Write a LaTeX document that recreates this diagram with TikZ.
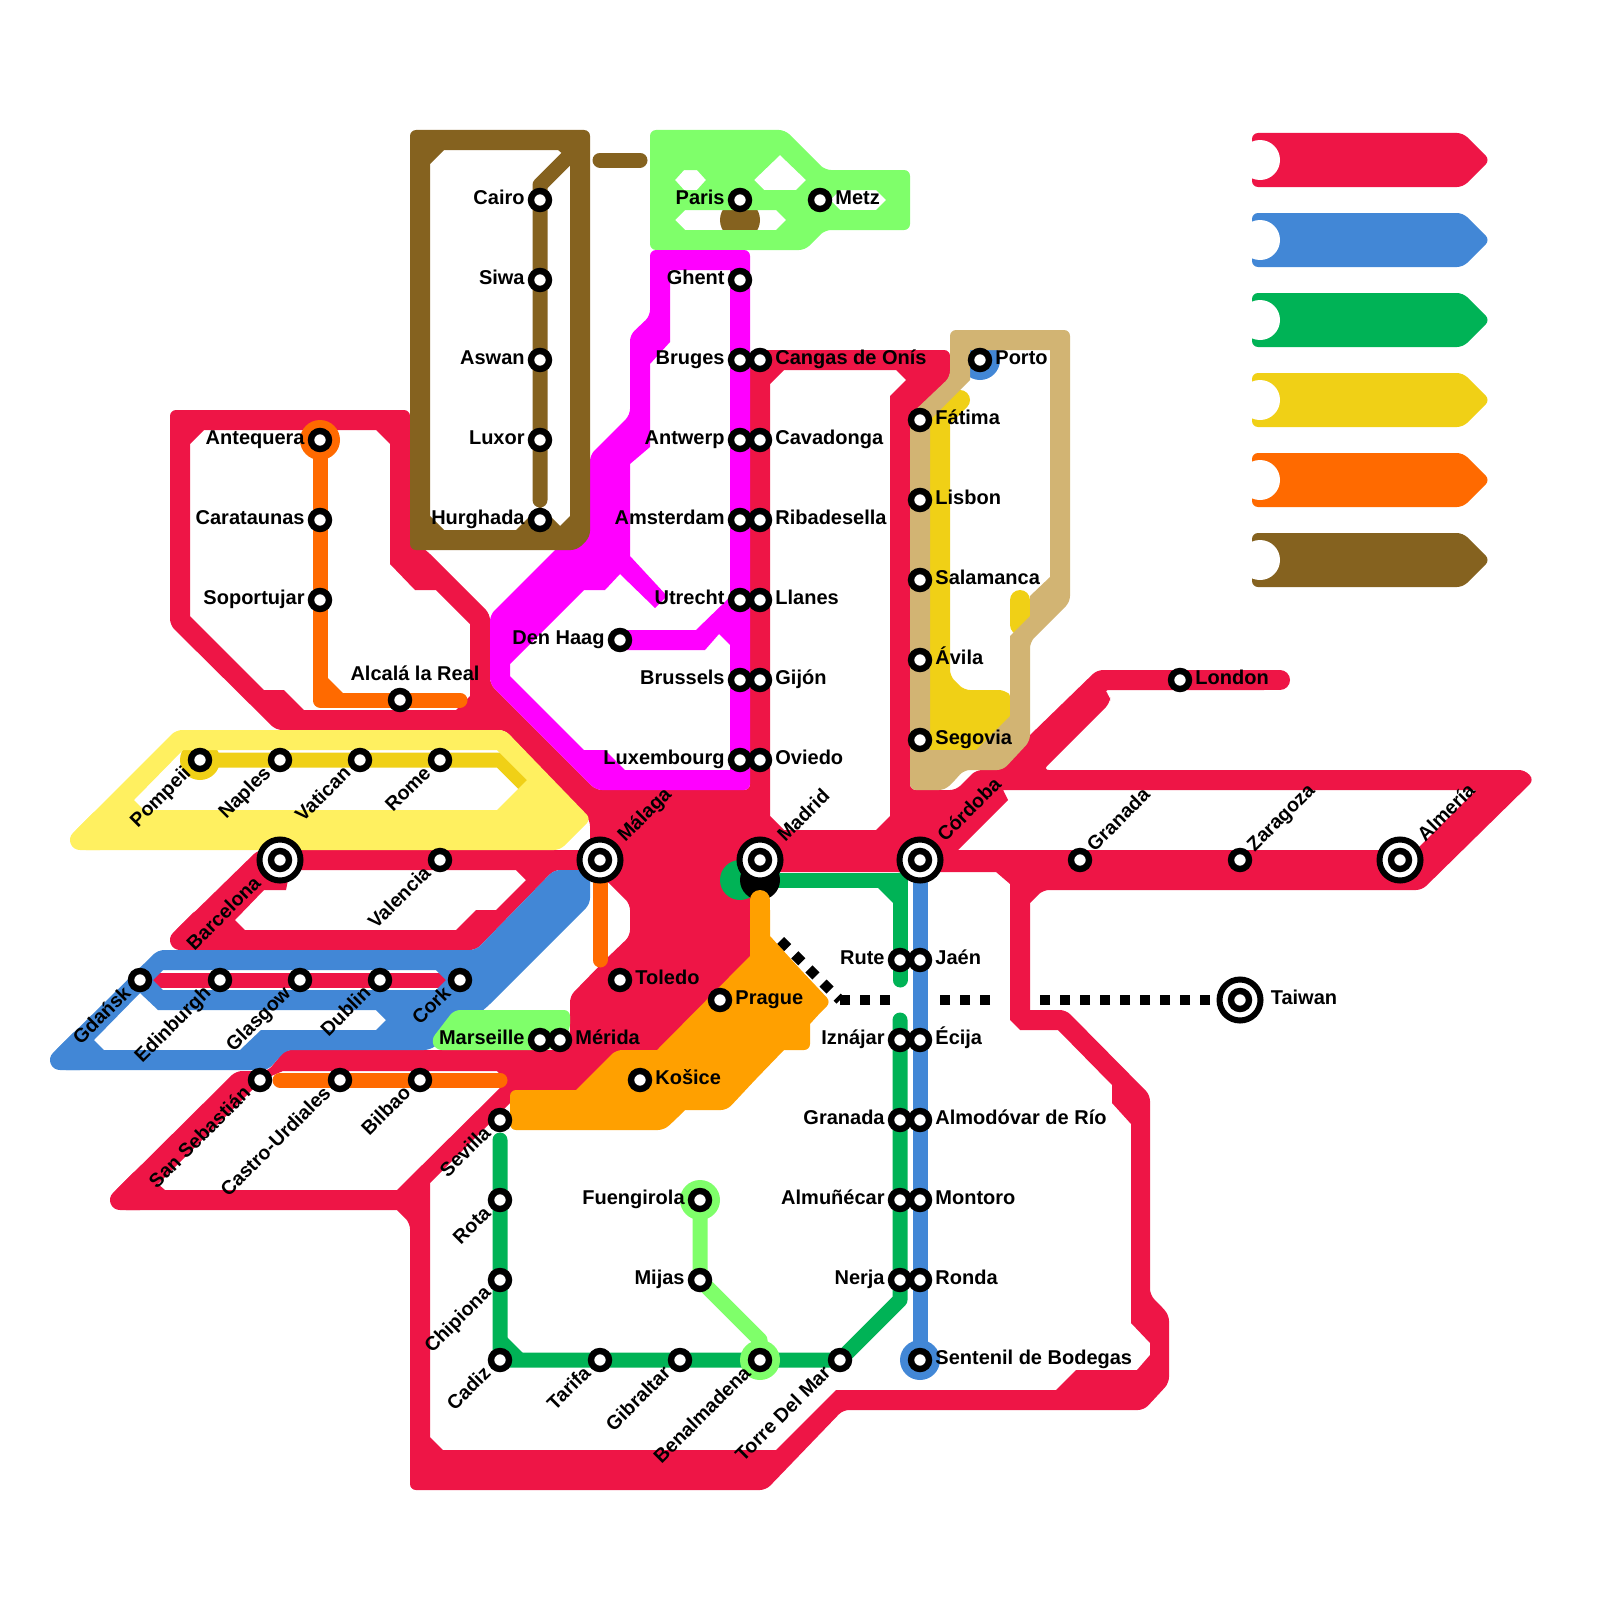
\documentclass[tikz,border=0pt]{standalone}
\usepackage{fontspec}
\setmainfont{Liberation Sans}[BoldFont={Liberation Sans Bold}]
\pgfdeclarelayer{under}
\pgfsetlayers{under,main}
\definecolor{crim}{HTML}{EE1546}
\definecolor{bluel}{HTML}{4287D6}
\definecolor{greenl}{HTML}{00B356}
\definecolor{yell}{HTML}{F0D016}
\definecolor{oran}{HTML}{FF6A00}
\definecolor{brow}{HTML}{85621F}
\definecolor{magl}{HTML}{FF00FF}
\definecolor{lgreen}{HTML}{7FFF6A}
\definecolor{lyell}{HTML}{FFF060}
\definecolor{tanl}{HTML}{D2B473}
\definecolor{ambe}{HTML}{FFA000}
\tikzset{
 stn/.style={circle,draw=black,fill=white,line width=3.2pt,minimum size=9pt,inner sep=0pt},
 hub/.style={circle,draw=black,fill=white,line width=3pt,minimum size=20.5pt,inner sep=0pt,
   path picture={\draw[black,fill=white,line width=3.2pt] (path picture bounding box.center) circle (4.5pt);}},
 lbl/.style={font=\fontsize{10}{10}\selectfont\bfseries,inner sep=0pt,text=black},
 lblr/.style={font=\fontsize{9.8}{10}\selectfont\bfseries,inner sep=0pt,text=black},
 thin/.style={line width=7.5pt,line cap=round,line join=round},
 shapeline/.style={even odd rule,rounded corners=3pt},
 dots/.style={black,line width=5pt,dash pattern=on 5pt off 5pt},
 rc/.style={rounded corners=3pt},
 sc/.style={sharp corners},
 capsule/.style={line width=10pt,line cap=round,line join=round},
}
\newcommand{\SL}[4]{\node[stn] (#1) at (#2,#3) {};\node[lbl,anchor=base east,xshift=-7.5pt,yshift=-2.4pt] (#1-t) at (#1) {#4};}
\newcommand{\SR}[4]{\node[stn] (#1) at (#2,#3) {};\node[lbl,anchor=base west,xshift=7.5pt,yshift=-2.4pt] (#1-t) at (#1) {#4};}
\newcommand{\SA}[4]{\node[stn] (#1) at (#2,#3) {};\node[lblr,anchor=base west,xshift=7.3pt,yshift=3.7pt,rotate=45] (#1-t) at (#1) {#4};}
\newcommand{\SB}[4]{\node[stn] (#1) at (#2,#3) {};\node[lblr,anchor=base east,xshift=-4pt,yshift=-7pt,rotate=45] (#1-t) at (#1) {#4};}
\newcommand{\HA}[4]{\node[hub] (#1) at (#2,#3) {};\node[lblr,anchor=base west,xshift=12.5pt,yshift=8.5pt,rotate=45] (#1-t) at (#1) {#4};}
\begin{document}
\begin{tikzpicture}[x=0.5pt,y=-0.5pt]
\useasboundingbox (0,0) rectangle (1600,1600);
% stations
\SL{cairo}{540}{200}{Cairo}
\SL{siwa}{540}{280}{Siwa}
\SL{aswan}{540}{360}{Aswan}
\SL{luxor}{540}{440}{Luxor}
\SL{hurghada}{540}{520}{Hurghada}
\SL{paris}{740}{200}{Paris}
\SR{metz}{820}{200}{Metz}
\SL{ghent}{740}{280}{Ghent}
\SL{bruges}{740}{360}{Bruges}
\SL{antwerp}{740}{440}{Antwerp}
\SL{amsterdam}{740}{520}{Amsterdam}
\SL{utrecht}{740}{600}{Utrecht}
\SL{brussels}{740}{680}{Brussels}
\SL{luxembourg}{740}{760}{Luxembourg}
\SL{denhaag}{620}{640}{Den Haag}
\SR{cangas}{760}{360}{Cangas de Onís}
\SR{cavadonga}{760}{440}{Cavadonga}
\SR{ribadesella}{760}{520}{Ribadesella}
\SR{llanes}{760}{600}{Llanes}
\SR{gijon}{760}{680}{Gijón}
\SR{oviedo}{760}{760}{Oviedo}
\SR{porto}{980}{360}{Porto}
\SR{fatima}{920}{420}{Fátima}
\SR{lisbon}{920}{500}{Lisbon}
\SR{salamanca}{920}{580}{Salamanca}
\SR{avila}{920}{660}{Ávila}
\SR{segovia}{920}{740}{Segovia}
\SR{london}{1180}{680}{London}
\SL{antequera}{320}{440}{Antequera}
\SL{carataunas}{320}{520}{Carataunas}
\SL{soportujar}{320}{600}{Soportujar}
\node[stn] (alcala) at (400,700) {};
\node[lbl,anchor=base,xshift=7.5pt,yshift=10pt] (alcala-t) at (alcala) {Alcalá la Real};
\SB{pompeii}{200}{760}{Pompeii}
\SB{naples}{280}{760}{Naples}
\SB{vatican}{360}{760}{Vatican}
\SB{rome}{440}{760}{Rome}
\node[hub] (barcelona) at (280,860) {};
\node[lblr,anchor=base east,xshift=-9pt,yshift=-12pt,rotate=45] (barcelona-t) at (barcelona) {Barcelona};
\SB{valencia}{440}{860}{Valencia}
\HA{malaga}{600}{860}{Málaga}
\HA{madrid}{760}{860}{Madrid}
\HA{cordoba}{920}{860}{Córdoba}
\SA{granadaE}{1080}{860}{Granada}
\SA{zaragoza}{1240}{860}{Zaragoza}
\HA{almeria}{1400}{860}{Almería}
\node[hub] (taiwan) at (1240,1000) {};
\node[lbl,anchor=base west,xshift=15.2pt,yshift=-2pt] (taiwan-t) at (taiwan) {Taiwan};
\SB{gdansk}{140}{980}{Gdańsk}
\SB{edinburgh}{220}{980}{Edinburgh}
\SB{glasgow}{300}{980}{Glasgow}
\SB{dublin}{380}{980}{Dublin}
\SB{cork}{460}{980}{Cork}
\SB{sansebastian}{260}{1080}{San Sebastián}
\SB{castro}{340}{1080}{Castro-Urdiales}
\SB{bilbao}{420}{1080}{Bilbao}
\SR{toledo}{620}{980}{Toledo}
\SR{prague}{720}{1000}{Prague}
\SL{marseille}{540}{1040}{Marseille}
\SR{merida}{560}{1040}{Mérida}
\SR{kosice}{640}{1080}{Košice}
\SB{sevilla}{500}{1120}{Sevilla}
\SB{rota}{500}{1200}{Rota}
\SB{chipiona}{500}{1280}{Chipiona}
\SB{cadiz}{500}{1360}{Cadiz}
\SB{tarifa}{600}{1360}{Tarifa}
\SB{gibraltar}{680}{1360}{Gibraltar}
\SB{benalmadena}{760}{1360}{Benalmadena}
\SB{torredelmar}{840}{1360}{Torre Del Mar}
\SL{fuengirola}{700}{1200}{Fuengirola}
\SL{mijas}{700}{1280}{Mijas}
\SL{rute}{900}{960}{Rute}
\SL{iznajar}{900}{1040}{Iznájar}
\SL{granadaS}{900}{1120}{Granada}
\SL{almunecar}{900}{1200}{Almuñécar}
\SL{nerja}{900}{1280}{Nerja}
\SR{jaen}{920}{960}{Jaén}
\SR{ecija}{920}{1040}{Écija}
\SR{almodovar}{920}{1120}{Almodóvar de Río}
\SR{montoro}{920}{1200}{Montoro}
\SR{ronda}{920}{1280}{Ronda}
\SR{sentenil}{920}{1360}{Sentenil de Bodegas}
\begin{pgfonlayer}{under}
% legend
\foreach \yy/\cc in {160/crim,240/bluel,320/greenl,400/yell,480/oran,560/brow}{
 \fill[\cc,rounded corners=3pt] (1252,\yy-27) -- (1463,\yy-27) -- (1490,\yy) -- (1463,\yy+27) -- (1252,\yy+27) -- cycle;
 \fill[white] (1260,\yy) circle (10pt);
}
% dotted line
\coordinate (d1) at (1040,1000);\coordinate (d2) at (990,1000);\coordinate (d3) at (940,1000);
\coordinate (d4) at (890,1000);\coordinate (d5) at (840,1000);\coordinate (d6) at (779,939);
\draw[dots,dash phase=5pt] (taiwan.center) -- (d1);
\draw[dots] (d2) -- (d3);
\draw[dots] (d4) -- (d5);
\draw[dots,dash phase=3pt] (d5) -- (d6);
% pieces below the big shapes
\draw[crim,thin] (gdansk.center) -- (cork.center);
\fill[brow] (740,220) circle (10pt);
% crimson
\draw[crim,capsule] (140,1200) -- (120,1200) -- (140,1180);
\draw[crim,capsule] (200,940) -- (180,940) -- (200,920);
\draw[crim,capsule] (1260,680) -- (1280,680);
\fill[crim,shapeline]
 (170,410)--(410,410)--(410,540)--(426,550)--(490,614)--(490,684)--(596,790)--(750,790)--(750,350)--(950,350)--(950,378)--(910,418)--(910,790)--(956,790)--(976,770)--(994,770)--(1097,670)--(1270,670)--(1270,690)--(1103,690)--(1110,695)--(1110,703)--(1043,770)--(1525,770)--(1534,780)--(1422,890)--(1043,890)[sc]--(1030,903)--(1030,1010)--(1050,1010)[rc]--(1066,1010)--(1150,1095)--(1150,1295)[sc]--(1160,1305)[rc]--(1169,1315)--(1169,1383)--(1144,1410)--(843,1410)--(766,1490)--(410,1490)--(410,1223)[sc]--(397,1210)--(300,1210)[rc]--(120,1210)--(113,1193)--(236,1071)--(268,1071)--(285,1050)--(570,1050)--(570,996)--(607,958)--(630,936)--(630,904)--(607,881)--(590,870)--(554,870)--(476,950)--(180,950)--(173,933)--(258,850)--(590,850)--(590,820)--(505,730)--(276,730)--(170,625)--cycle
 [sc]
 (190,444)--(204,430)--(376,430)--(390,444)--(390,564)--(415,590)--(436,590)--(470,624)--(470,696)--(456,710)--(304,710)--(284,690)--(264,690)--(190,616)--cycle
 (770,384)--(784,370)--(896,370)--(906,380)--(890,396)--(890,816)--(876,830)--(784,830)--(770,816)--cycle
 (1003,790)--(1476,790)--(1416,850)--(958,850)--(1008,800)--cycle
 (290,870)--(516,870)--(526,880)--(496,910)--(476,910)--(456,930)--(245,930)--(235,920)--(264,890)--(286,890)--cycle
 (283,1071)--(497,1071)--(507,1081)--(397,1190)--(165,1190)--(158,1184)--(262,1080)--cycle
 (760,872)--(996,872)--(1010,884)--(1010,1020)--(1020,1030)--(1058,1030)--(1112,1085)--(1112,1103)--(1131,1124)--(1131,1323)--(1150,1343)--(1150,1355)--(1137,1370)--(1076,1370)--(1056,1390)--(836,1390)--(776,1450)--(443,1450)--(430,1437)--(430,1183)--(505,1108)--(510,1103)--(520,1100)--(640,1100)--(760,1000)--cycle;
% yellow
\fill[yell] (pompeii) circle (10pt);
\draw[yell,line width=7.5pt,line join=round] (pompeii.center) -- (500,760) -- (525,785);
\fill[yell,rounded corners=3pt] (925,430)--(950,420)--(950,676)--(964,690)--(1005,690)--(1012,697)--(1012,760)--(925,760)--cycle;
\draw[yell,capsule] (935,425) -- (960,400);
\draw[yell,capsule] (1020,600) -- (1020,625);
% light yellow
\draw[lyell,capsule] (100,840) -- (80,840) -- (100,820);
\fill[lyell,shapeline] (73,833)--(176,730)--(505,730)--(591,819)--(560,850)--(80,850)--cycle
 [sc] (183,750)--(497,750)--(527,780)--(497,810)--(144,810)--(134,800)--cycle;
% blue
\draw[bluel,capsule] (80,1060) -- (60,1060) -- (80,1040);
\fill[bluel,shapeline] (53,1053)--(158,950)--(476,950)--(554,870)--(590,870)--(590,904)--(486,1008)--(430,1050)--(286,1050)--(268,1070)--(60,1070)--cycle
 [sc] (163,970)--(436,970)--(446,980)--(436,990)--(163,990)--(153,980)--cycle
 (140,993)--(158,1010)--(376,1010)--(386,1020)--(376,1030)--(261,1030)--(240,1050)--(104,1050)--(94,1040)--cycle;
\fill[bluel] (porto) circle (10pt);
% light green
\fill[lgreen,rounded corners=3pt] (431,1040)--(454,1010)--(570,1010)--(570,1030)--(550,1050)--(436,1050)--cycle;
\fill[lgreen,shapeline] (650,130)--(785,130)--(825,170)[sc]--(860,170)[rc]--(910,170)--(910,230)--(825,230)[sc]--(815,240)[rc]--(805,250)--(650,250)--cycle
 [sc] (675,180)--(684,170)--(697,170)--(706,180)--(697,190)--(684,190)--cycle
 (754,180)--(780,155)--(806,180)--(796,190)--(764,190)--cycle
 (675,220)--(685,210)--(776,210)--(786,220)--(776,230)--(685,230)--cycle
 (840,190)--(876,190)--(886,200)--(876,210)--(840,210)--(830,200)--cycle;
% magenta
\fill[magl,shapeline] (650,250)--(750,250)--(750,790)--(596,790)--(490,684)--(490,615)--(590,515)--(590,455)--(630,415)[sc]--(630,375)[rc]--(630,335)--(650,316)[sc]--(650,290)[rc]--cycle
 [sc] (670,270)--(730,270)--(730,597)--(696,630)--(620,630)--(620,650)--(705,650)--(719,634)--(730,645)--(730,770)--(625,770)--(605,750)--(584,750)--(510,676)--(510,664)--(584,590)--(605,590)--(620,574)--(655,608)--(667,596)--(630,556)--(630,464)--(650,447)--(650,364)--(670,342)--cycle;
% amber
\fill[ambe] (750,956)--(657,1050)--(636,1050)[rc]--(616,1050)--(596,1070)[sc]--(576,1090)--(540,1090)[rc]--(510,1090)--(510,1130)--(664,1130)--(675,1120)[sc]--(685,1110)--(705,1110)[rc]--(727,1110)--(755,1080)[sc]--(784,1050)--(797,1050)[rc]--(810,1050)--(810,1037)[sc]--(810,1024)--(820,1013)[rc]--(831,1002)--(800,969)[sc]--(770,936)--(770,910)--(750,910)--cycle;
% tan
\fill[tanl,shapeline] (950,330)--(1070,330)--(1070,602)--(1030,642)[sc]--(1030,690)[rc]--(1030,741)--(1003,770)--(964,770)[sc]--(955,780)[rc]--(945,790)--(910,790)--(910,415)--(950,377)--cycle
 [sc] (970,350)--(1050,350)--(1050,577)--(1030,596)--(1030,616)--(1010,636)--(1010,716)--(976,750)--(930,750)--(930,420)--(970,380)--cycle;
% brown
\fill[brow,shapeline] (410,130)--(590,130)--(590,537)--(577,550)--(410,550)--cycle
 [sc] (430,164)--(444,150)--(558,150)--(570,160)--(570,516)--(560,526)--(540,506)--(516,530)--(444,530)--(430,516)--cycle;
\draw[brow,thin] (hurghada.center) ++(0,-20) -- (cairo.center) -- ++(0,-15) -- (570,155);
\coordinate (bb1) at (600,160);\coordinate (bb2) at (640,160);
\draw[brow,thin] (bb1) -- (bb2);
% orange
\fill[oran] (antequera) circle (10pt);
\draw[oran,thin] (antequera.center) -- (320,700) -- (alcala.center) -- (460,700);
\fill[oran] (320,670)--(350,700)--(320,700)--cycle;
\draw[oran,thin] (malaga.center) -- (600,960);
\draw[oran,thin] (sansebastian.center) ++(20,0) -- (500,1080);
% Madrid green and black
\fill[greenl] (740,880) circle (10pt);
\draw[greenl,line width=7.5pt] (760,880) -- (900,880) -- (900,980);
\draw[greenl,thin] (900,880) -- (900,980);
\fill[greenl] (870,880)--(900,880)--(900,910)--cycle;
\fill[black] (760,880) circle (10pt);
\draw[ambe,capsule] (760,900) -- (760,940);
% green
\draw[greenl,thin] (sevilla.center) ++(0,20) -- (cadiz.center) -- (torredelmar.center) -- (900,1300) -- (900,1020);
\fill[greenl] (500,1330)--(530,1360)--(500,1360)--cycle;
% blue line
\draw[bluel,line width=7.5pt] (cordoba.center) -- (sentenil.center);
\fill[bluel] (sentenil) circle (10pt);
% light green line
\fill[lgreen] (fuengirola) circle (10pt);
\fill[lgreen] (benalmadena) circle (10pt);
\draw[lgreen,thin] (fuengirola.center) -- (mijas.center) -- (760,1340) -- (benalmadena.center);
\end{pgfonlayer}
\end{tikzpicture}
\end{document}
